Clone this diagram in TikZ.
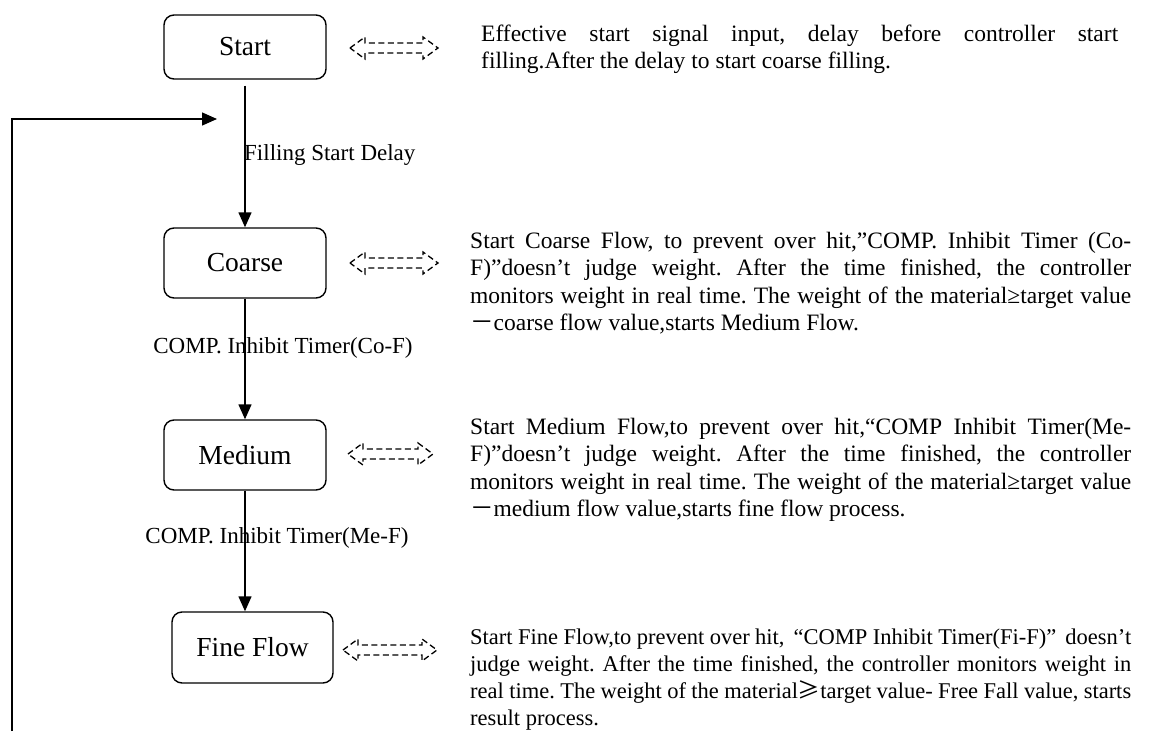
\documentclass[tikz,border=0pt]{standalone}
\usepackage{fontspec}
\setmainfont{Liberation Serif}
\newfontfamily\cjk{Noto Sans CJK SC}
\usetikzlibrary{arrows.meta}
\frenchspacing
\newcommand\dasharr[3]{% x0, x1, yc
  \draw[dsh] (#1,#3) -- (#1+15,#3-11) -- (#1+15,#3-5) -- (#2-15,#3-5) -- (#2-15,#3-11) -- (#2,#3)
    -- (#2-15,#3+11) -- (#2-15,#3+5) -- (#1+15,#3+5) -- (#1+15,#3+11) -- cycle;}
\newcommand\looseskip{\frenchspacing\spaceskip=0.25em plus 0.5em minus 0.12em\relax}
\begin{document}
\begin{tikzpicture}[x=1pt,y=-1pt,
  box/.style={draw, line width=1.4pt, rounded corners=10pt, minimum width=162pt,
    minimum height=66pt, inner sep=0pt, font=\fontsize{27.5}{30}\selectfont},
  arr/.style={line width=1.4pt, -{Triangle[length=15pt,width=13pt]}},
  dsh/.style={line width=1.3pt, dash pattern=on 6pt off 3.5pt},
  desc/.style={anchor=base west, inner sep=0pt, align=justify,
    font=\fontsize{23.5}{27.5}\selectfont},
  lbl/.style={inner sep=0pt, font=\fontsize{23}{27}\selectfont}]
\useasboundingbox (0,0) rectangle (1151,731);

% boxes
\node[box, minimum height=64pt] (start) at (245,47) {Start};
\node[box, minimum height=70pt] (coarse) at (245,263) {Coarse};
\node[box, minimum height=70pt] (medium) at (245,455) {Medium};
\node[box, minimum height=71pt, minimum width=161pt] (fine) at (252.5,647.5) {Fine Flow};

% main connectors
\draw[arr, shorten <=6pt] (start.south) -- (coarse.north);
\draw[arr] (coarse.south) -- (medium.north);
\draw[arr] (medium.south) -- (medium.south |- fine.north);

% feedback
\coordinate (fbstart) at (12,731);
\coordinate (fbend) at (217,119);
\draw[arr] (fbstart) |- (fbend);

% labels
\node[lbl, anchor=base west] (l1) at (244,160) {Filling Start Delay};
\node[lbl, anchor=base] (l2) at (283,353) {COMP. Inhibit Timer(Co-F)};
\node[lbl, anchor=base] (l3) at (277,543) {COMP. Inhibit Timer(Me-F)};

% dashed hollow double arrows
\dasharr{350}{438}{48}
\dasharr{350}{438}{263}
\dasharr{348}{433}{454}
\dasharr{343}{437}{650}

% descriptions
\node[desc, text width=637pt] (tstart) at (481,41)
 {\looseskip Effective start signal input, delay before controller start\linebreak
  filling.After the delay to start coarse filling.};
\node[desc, text width=661pt] (tcoarse) at (470,248)
 {\looseskip Start Coarse Flow, to prevent over hit,”COMP. Inhibit Timer (Co-\linebreak
  F)”doesn’t judge weight. After the time finished, the controller\linebreak
  monitors weight in real time. The weight of the material≥target value\linebreak
  {\cjk －}coarse flow value,starts Medium Flow.};
\node[desc, text width=661pt] (tmedium) at (470,434)
 {\looseskip Start Medium Flow,to prevent over hit,“COMP Inhibit Timer(Me-\linebreak
  F)”doesn’t judge weight. After the time finished, the controller\linebreak
  monitors weight in real time. The weight of the material≥target value\linebreak
  {\cjk －}medium flow value,starts fine flow process.};
\node[desc, text width=661pt, font=\fontsize{22.5}{27}\selectfont] (tfine) at (470,644)
 {\looseskip Start Fine Flow,to prevent over hit, \,“COMP Inhibit Timer(Fi-F)”\, doesn’t\linebreak
  judge weight. After the time finished, the controller monitors weight in\linebreak
  real time. The weight of the material{\cjk ≥}target value- Free Fall value, starts\linebreak
  result process.};
\end{tikzpicture}
\end{document}
